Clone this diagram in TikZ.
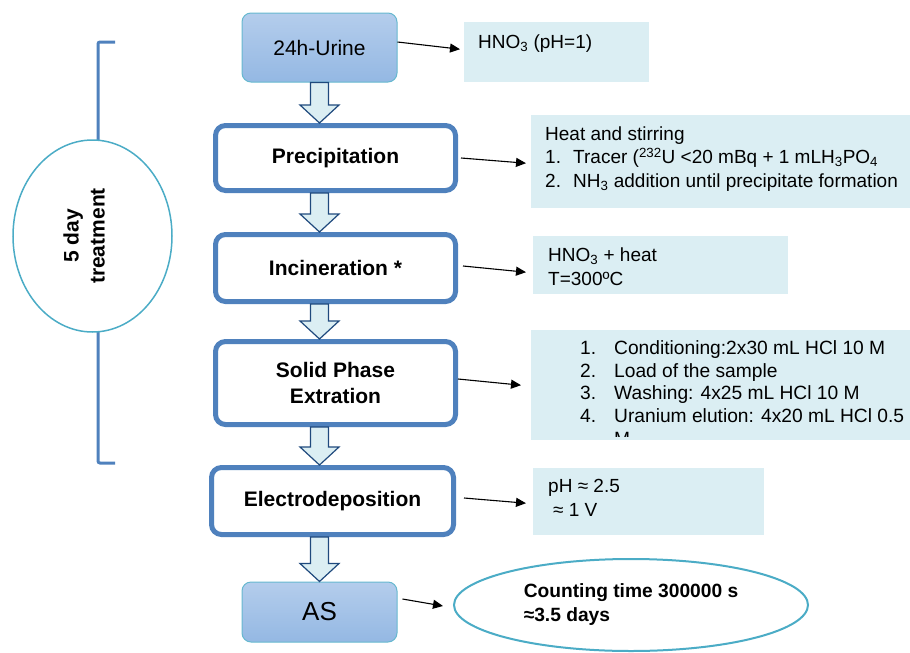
\documentclass[tikz,border=0pt]{standalone}
\usepackage{fontspec}
\setmainfont{Liberation Sans}
\usetikzlibrary{calc,shapes.geometric,arrows.meta}

\definecolor{boxblue}{RGB}{79,129,189}
\definecolor{notefill}{RGB}{219,238,243}
\definecolor{ringteal}{RGB}{75,172,198}
\definecolor{arrowedge}{RGB}{31,73,125}
\definecolor{topfill}{RGB}{180,205,236}
\definecolor{botfill}{RGB}{148,184,227}

\newcommand{\stepdown}[2]{%
    \draw [blockarrow] let \p0=(urine.center), \p1=(#1.south), \p2=(#2.north) in
        (\x0-9pt,\y1) -- (\x0+9pt,\y1) -- (\x0+9pt,\y2+18pt) -- (\x0+19.5pt,\y2+18pt)
        -- (\x0,\y2) -- (\x0-19.5pt,\y2+18pt) -- (\x0-9pt,\y2+18pt) -- cycle;}

\begin{document}
\begin{tikzpicture}
    [
        x=1pt, y=-1pt,
        stage/.style={rectangle, rounded corners=10pt, draw=boxblue, line width=5pt, fill=white,
            minimum width=240pt, align=center, font=\fontsize{21}{26}\selectfont\bfseries},
        sourcebox/.style={rectangle, rounded corners=9pt, draw=ringteal!85, line width=1pt,
            top color=topfill, bottom color=botfill, minimum width=155pt},
        notebox/.style={rectangle, fill=notefill, anchor=north west, inner sep=0pt},
        notetext/.style={anchor=base west, inner sep=0pt, align=left, font=\fontsize{19}{23.5}\selectfont},
        blockarrow/.style={draw=arrowedge, fill=notefill, line width=1.2pt, line join=miter},
        remark/.style={-{Triangle[length=10pt,width=9pt]}, line width=1.1pt},
        spanring/.style={ellipse, draw=ringteal, line width=1.5pt, fill=white,
            minimum width=159pt, minimum height=192pt},
        countring/.style={ellipse, draw=ringteal, line width=2pt, fill=white,
            minimum width=354pt, minimum height=92pt, align=left,
            font=\fontsize{19.2}{24}\selectfont\bfseries},
    ]
    \useasboundingbox (0,0) rectangle (910,653);

    \draw [boxblue, line width=3pt, rounded corners=2pt] (115,42) -- (98,42) -- (98,463) -- (115,463);
    \node (span) at (92.5,236) [spanring] {};
    \node (spantext) at (84,236) [rotate=90, align=center, font=\fontsize{21}{26}\selectfont\bfseries] {5 day\\treatment};

    \node (urine) at (319.5,47.5) [sourcebox, minimum height=69pt] {\fontsize{21}{25}\selectfont 24h-Urine};
    \node (prec) at (335.5,158) [stage, minimum height=65pt] {Precipitation};
    \node (incin) at (335.5,268) [stage, minimum height=67pt] {Incineration *};
    \node (spe) at (335.5,383) [stage, minimum height=83pt] {Solid Phase\\Extration};
    \node (elec) at (332.5,501) [stage, minimum width=242pt, minimum height=67pt] {Electrodeposition};
    \node (as) at (319.5,612) [sourcebox, minimum height=60pt] {\fontsize{26}{30}\selectfont AS};

    \stepdown{urine}{prec}
    \stepdown{prec}{incin}
    \stepdown{incin}{spe}
    \stepdown{spe}{elec}
    \stepdown{elec}{as}

    \node (hno) at (464,22) [notebox, minimum width=185pt, minimum height=60pt] {};
    \node (precnote) at (531,115) [notebox, minimum width=379pt, minimum height=93pt] {};
    \node (incnote) at (533,236) [notebox, minimum width=255pt, minimum height=58pt] {};
    \node (spenote) at (531,330) [notebox, minimum width=379pt, minimum height=110pt] {};
    \node (elnote) at (533,468) [notebox, minimum width=231pt, minimum height=67pt] {};
    \node (count) at (631,605) [countring] {Counting time 300000 s\\≈3.5 days};

    % multi-line texts sit on the baseline of their last line
    \node (hnotext) at (478,48) [notetext] {HNO\textsubscript{3} (pH=1)};
    \node (prectext) at (545,187) [notetext] {Heat and stirring\\
        \makebox[28pt][l]{1.}Tracer (\textsuperscript{232}U <20 mBq + 1 mLH\textsubscript{3}PO\textsubscript{4}\\
        \makebox[28pt][l]{2.}NH\textsubscript{3} addition until precipitate formation};
    \node (incintext) at (548,285) [notetext] {HNO\textsubscript{3} + heat\\T=300ºC};
    \node (spetext) at (580,422) [notetext, font=\fontsize{19.2}{22.5}\selectfont] {%
        \makebox[34pt][l]{1.}Conditioning:2x30 mL HCl 10 M\\
        \makebox[34pt][l]{2.}Load of the sample\\
        \makebox[34pt][l]{3.}Washing: 4x25 mL HCl 10 M\\
        \makebox[34pt][l]{4.}Uranium elution: 4x20 mL HCl 0.5};
    \begin{scope}
        \clip (531,330) rectangle (910,436);
        \node (spemore) at (614,445) [notetext, font=\fontsize{19.2}{22.5}\selectfont] {M};
    \end{scope}
    \node (eltext) at (548,516) [notetext] {pH ≈ 2.5\\\hspace{5pt}≈ 1 V};

    \draw [remark] ([yshift=5.5pt]urine.east) -- ([xshift=-4pt,yshift=3pt]hno.west);
    \draw [remark] ([xshift=3pt]prec.east) -- ([xshift=-5pt,yshift=-1.5pt]precnote.west);
    \draw [remark] ([xshift=5pt,yshift=2pt]incin.east) -- ([xshift=-7pt,yshift=-7pt]incnote.west);
    \draw [remark] ([yshift=4pt]spe.east) -- ([xshift=-10pt]spenote.west);
    \draw [remark] ([xshift=8pt,yshift=3pt]elec.east) -- ([xshift=-7pt,yshift=-1.5pt]elnote.west);
    \draw [remark] ([xshift=5pt,yshift=13pt]as.east) -- ([xshift=-10pt,yshift=-1pt]count.west);
\end{tikzpicture}
\end{document}
